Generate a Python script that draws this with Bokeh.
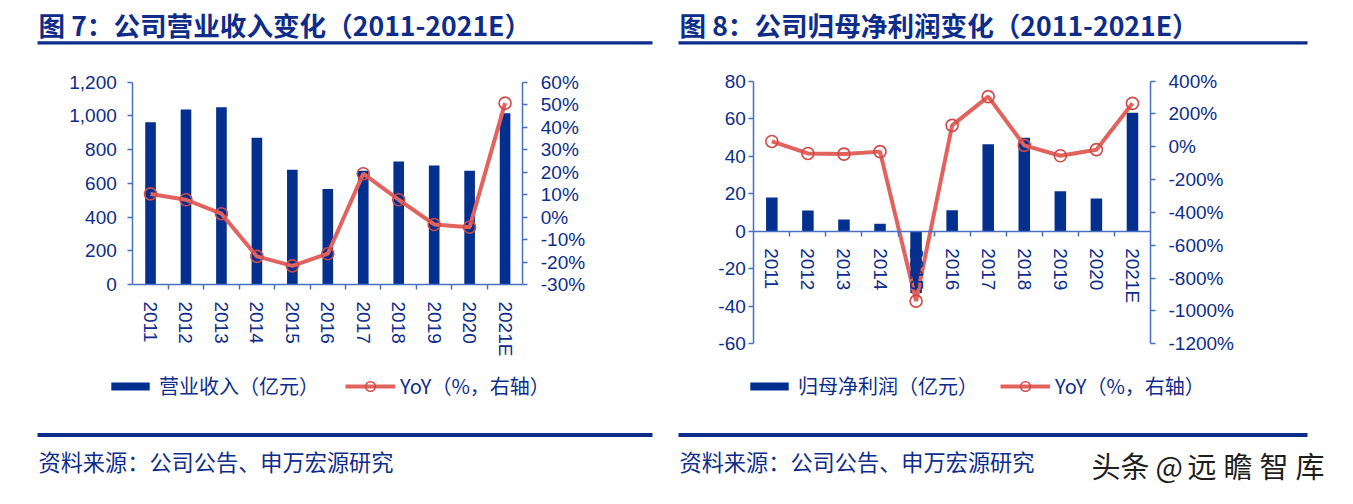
from bokeh.plotting import figure
from bokeh.models import (Range1d, LinearAxis, FixedTicker, NumeralTickFormatter,
                          PrintfTickFormatter, CustomJSTickFormatter, Label,
                          BoxAnnotation, Legend, LegendItem)
from bokeh.layouts import row
from bokeh.embed import file_html
from bokeh.resources import INLINE

# ---------------- data ----------------
years = ["2011", "2012", "2013", "2014", "2015", "2016", "2017", "2018", "2019", "2020", "2021E"]
revenue = [963, 1038, 1052, 870, 680, 567, 675, 729, 706, 674, 1016]          # 亿元
revenue_yoy = [10.3, 7.7, 1.5, -17.5, -21.7, -16.3, 19.3, 7.7, -3.3, -4.5, 50.7]  # %
profit = [17.9, 11.0, 6.2, 3.9, -33.0, 11.2, 46.3, 49.8, 21.3, 17.4, 63.1]     # 亿元
profit_yoy = [32, -41, -45, -30, -940, 130, 305, 8, -55, -18, 264]            # %

rev_ticks = [0, 200, 400, 600, 800, 1000, 1200]
rev_yoy_ticks = [-30, -20, -10, 0, 10, 20, 30, 40, 50, 60]
profit_ticks = [-60, -40, -20, 0, 20, 40, 60, 80]
profit_yoy_ticks = [-1200, -1000, -800, -600, -400, -200, 0, 200, 400]

title1 = "图 7：公司营业收入变化（2011-2021E）"
title2 = "图 8：公司归母净利润变化（2011-2021E）"
legend_bar1 = "营业收入（亿元）"
legend_bar2 = "归母净利润（亿元）"
legend_line = "YoY（%，右轴）"
source = "资料来源：公司公告、申万宏源研究"
watermark_chars = ["头", "条", "@", "远", "瞻", "智", "库"]

# ---------------- style ----------------
NAVY = "#0E2D8A"
BAR = "#03308F"
AXIS = "#4A6FC0"
RED = "#E2625E"
RED_EDGE = "#CF4A47"
CJK = "Noto Sans CJK SC"
LAT = "Liberation Sans"
H = 500

n = len(years)
centers = [i + 0.5 for i in range(n)]
bounds = list(range(1, n))


def xrange_px(v0, p0, v1, p1, W):
    s = (p1 - p0) / (v1 - v0)
    return Range1d(v0 - p0 / s, v0 + (W - p0) / s)


def yrange_px(v0, c0, v1, c1):
    s = (c0 - c1) / (v1 - v0)
    return Range1d(v0 - (H - c0) / s, v0 + c0 / s)


def style_axis(ax, ticker, fmt, standoff, tick_out):
    ax.ticker = ticker
    ax.formatter = fmt
    ax.major_tick_out = tick_out
    ax.major_tick_in = 0
    ax.major_tick_line_color = AXIS
    ax.major_tick_line_width = 1.5
    ax.minor_tick_out = 5
    ax.minor_tick_in = 0
    ax.minor_tick_line_color = AXIS
    ax.minor_tick_line_width = 1.5
    ax.axis_line_color = AXIS
    ax.axis_line_width = 1.5
    ax.major_label_text_font = LAT
    ax.major_label_text_font_size = "19px"
    ax.major_label_text_color = NAVY
    ax.major_label_standoff = standoff


def make_panel(W, xpx, ypx, y2px, bars, yoy, yt, yfmt, yt2, bw, lstand,
               title, bar_label, x0, x1, leg_bar_x, leg_line_x):
    (ylo, yhi) = ypx
    (y2lo, y2hi) = y2px
    p = figure(width=W, height=H,
               x_range=xrange_px(0, xpx[0], n, xpx[1], W),
               y_range=yrange_px(ylo[0], ylo[1], yhi[0], yhi[1]),
               x_axis_location=None, y_axis_location=None,
               output_backend="svg", toolbar_location=None, min_border=0,
               outline_line_color=None, background_fill_color="white",
               border_fill_color="white")
    p.extra_y_ranges = {"yoy": yrange_px(y2lo[0], y2lo[1], y2hi[0], y2hi[1])}
    p.xgrid.visible = False
    p.ygrid.visible = False
    for g in p.grid:
        g.visible = False

    # x axis (category boundaries as tick marks, labels at centres)
    xa = LinearAxis(fixed_location=0, bounds=(0, n))
    style_axis(xa, FixedTicker(ticks=centers, minor_ticks=bounds),
               CustomJSTickFormatter(args=dict(labels=years), code="return labels[Math.floor(tick)]"),
               12, 0)
    xa.major_label_orientation = "vertical"
    p.add_layout(xa, "below")

    ya = LinearAxis(fixed_location=0, bounds=(ylo[0], yhi[0]))
    style_axis(ya, FixedTicker(ticks=yt), yfmt, lstand, 5)
    ya.minor_tick_line_color = None
    p.add_layout(ya, "left")

    ya2 = LinearAxis(fixed_location=n, y_range_name="yoy", bounds=(y2lo[0], y2hi[0]))
    style_axis(ya2, FixedTicker(ticks=yt2), PrintfTickFormatter(format="%d%%"), 13, 5)
    ya2.minor_tick_line_color = None
    p.add_layout(ya2, "right")

    b = p.vbar(x=centers, top=bars, width=bw, fill_color=BAR, line_color=None)
    l = p.line(x=centers, y=yoy, y_range_name="yoy", line_color=RED, line_width=4)
    d = p.scatter(x=centers, y=yoy, y_range_name="yoy", marker="circle", size=12,
                  fill_color=None, line_color=RED_EDGE, line_width=1.6)

    # title and underline
    p.add_layout(Label(x=x0 + 1, y=24, x_units="canvas", y_units="canvas", text=title,
                       text_font=CJK, text_font_size="26.6px", text_font_style="bold",
                       text_color=NAVY, text_baseline="middle", text_align="left"))
    p.add_layout(BoxAnnotation(left=x0, right=x1, top=40.7, bottom=44,
                               left_units="canvas", right_units="canvas",
                               top_units="canvas", bottom_units="canvas",
                               fill_color=NAVY, fill_alpha=1, line_color=None))
    # source line and text
    p.add_layout(BoxAnnotation(left=x0, right=x1, top=432.5, bottom=436.5,
                               left_units="canvas", right_units="canvas",
                               top_units="canvas", bottom_units="canvas",
                               fill_color=NAVY, fill_alpha=1, line_color=None))
    p.add_layout(Label(x=x0 + 1, y=460, x_units="canvas", y_units="canvas", text=source,
                       text_font=CJK, text_font_size="22.2px", text_color=NAVY,
                       text_baseline="middle", text_align="left"))
    # legends
    common = dict(orientation="horizontal", padding=0, margin=0, border_line_color=None,
                  background_fill_alpha=0, label_text_font=CJK, label_text_font_size="20px",
                  label_text_color=NAVY, label_standoff=5, label_height=24)
    leg_y = H - 400.3
    p.add_layout(Legend(items=[LegendItem(label=bar_label, renderers=[b])],
                        location=(leg_bar_x, leg_y), glyph_width=48, glyph_height=10, **common))
    p.add_layout(Legend(items=[LegendItem(label=legend_line, renderers=[l, d])],
                        location=(leg_line_x, leg_y), glyph_width=50, glyph_height=24, **common))
    return p


W1, W2 = 668, 680
p1 = make_panel(W1, (132.3, 522.3), ((0, 284.0), (1200, 81.7)), ((-30, 284.0), (60, 81.7)),
                revenue, revenue_yoy, rev_ticks, NumeralTickFormatter(format="0,0"),
                rev_yoy_ticks, 0.3, 11, title1, legend_bar1, 37, 652, 106, 345)

p2 = make_panel(W2, (85.3, 482.0), ((-60, 343.3), (80, 80.5)), ((-1200, 343.3), (400, 80.5)),
                profit, profit_yoy, profit_ticks, NumeralTickFormatter(format="0"),
                profit_yoy_ticks, 0.32, 3, title2, legend_bar2, 10, 639, 77, 332)

# watermark, spread out as in the reference
wm_x = [423, 452, 487, 519, 555, 591, 627]
for ch, xx in zip(watermark_chars, wm_x):
    p2.add_layout(Label(x=xx, y=464, x_units="canvas", y_units="canvas", text=ch,
                        text_font=CJK, text_font_size="29px", text_color="#1E1E1E",
                        text_baseline="middle", text_align="left"))

layout = row(p1, p2)
open("out.html", "w").write(file_html(layout, INLINE))
